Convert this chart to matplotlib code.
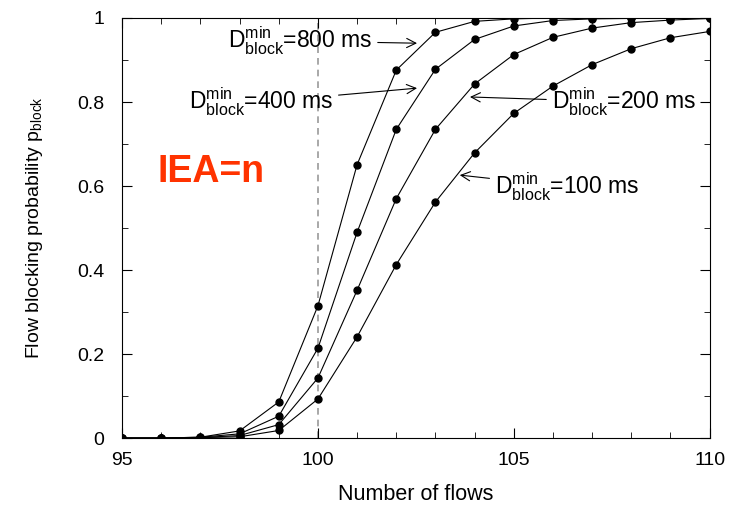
import numpy as np
import matplotlib.pyplot as plt

plt.rcParams['font.family'] = ['Liberation Sans', 'DejaVu Sans']
plt.rcParams['mathtext.fontset'] = 'custom'
plt.rcParams['mathtext.rm'] = 'Liberation Sans'
plt.rcParams['mathtext.it'] = 'Liberation Sans:italic'

# number of flows on the link
flows = np.arange(95, 111)

# blocking probability for each minimum blocking delay
p_800 = [0.0, 0.0, 0.002, 0.017, 0.086, 0.315, 0.651, 0.876, 0.966, 0.992,
         0.998, 1.0, 1.0, 1.0, 1.0, 1.0]
p_400 = [0.0, 0.0, 0.002, 0.010, 0.052, 0.214, 0.490, 0.735, 0.878, 0.949,
         0.981, 0.994, 0.998, 0.999, 1.0, 1.0]
p_200 = [0.0, 0.0, 0.001, 0.006, 0.032, 0.143, 0.352, 0.570, 0.735, 0.843,
         0.913, 0.954, 0.976, 0.989, 0.995, 0.999]
p_100 = [0.0, 0.0, 0.001, 0.003, 0.018, 0.093, 0.241, 0.413, 0.562, 0.679,
         0.773, 0.838, 0.889, 0.927, 0.953, 0.968]

series = [p_800, p_400, p_200, p_100]
delays = ['800', '400', '200', '100']

fig = plt.figure(figsize=(7.4, 5.07), dpi=100)
ax = fig.add_axes([0.165, 0.136, 0.794, 0.8285])

ax.axvline(100, color='#999999', ls=(0, (4, 3)), lw=1.2, zorder=1)

for p in series:
    ax.plot(flows, p, color='black', lw=0.8, marker='o', ms=5, zorder=3)

def dlabel(d):
    return r'$\mathregular{D_{block}^{min}}$=' + d + ' ms'

# (text position, arrow tip)
notes = {
    '800': ((97.7, 0.945), (102.53, 0.94)),
    '400': ((96.7, 0.80), (102.53, 0.833)),
    '200': ((105.97, 0.80), (103.88, 0.812)),
    '100': ((104.52, 0.598), (103.62, 0.626)),
}
for d in delays:
    (tx, ty), (ax_, ay) = notes[d]
    ax.annotate(dlabel(d), xy=(ax_, ay), xytext=(tx, ty), fontsize=16.5,
                ha='left', va='center',
                arrowprops=dict(arrowstyle='->', color='black', lw=0.8,
                                shrinkA=2, shrinkB=0))

ax.text(95.9, 0.633, 'IEA=n', color='#ff3300', fontsize=27,
        fontweight='bold', ha='left', va='center')

ax.set_xlim(95, 110)
ax.set_ylim(0, 1)
ax.set_xticks([95, 100, 105, 110])
ax.set_xticks(np.arange(95, 111), minor=True)
ax.set_yticks([0, 0.2, 0.4, 0.6, 0.8, 1])
ax.set_yticklabels(['0', '0.2', '0.4', '0.6', '0.8', '1'])
ax.set_yticks(np.arange(0, 1.01, 0.1), minor=True)
ax.tick_params(which='both', direction='in', top=True, right=True,
               labelsize=14)
ax.tick_params(axis='x', pad=10)
ax.tick_params(axis='y', pad=13)
ax.tick_params(which='major', length=7)
ax.tick_params(which='minor', length=4)

ax.set_xlabel('Number of flows', fontsize=15.5, labelpad=11)
ax.set_ylabel(r'Flow blocking probability $\mathregular{p_{block}}$',
              fontsize=14)
ax.yaxis.set_label_coords(-0.132, 0.5)

fig.savefig('out.png', dpi=100)
